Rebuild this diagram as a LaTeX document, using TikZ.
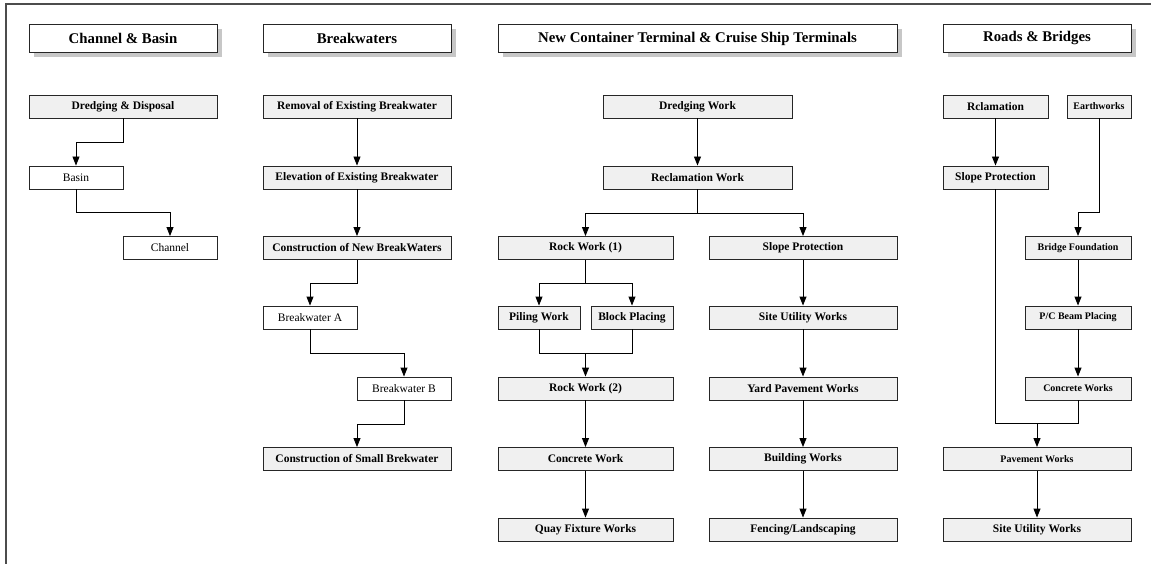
\documentclass[tikz,border=0pt]{standalone}
\usepackage{fontspec}
\setmainfont{Liberation Serif}
\usetikzlibrary{arrows.meta,shadows,calc}
\definecolor{boxgray}{RGB}{240,240,240}
\begin{document}
\begin{tikzpicture}[x=1pt,y=-1pt,
 box/.style={draw=black!85, line width=0.9pt, inner sep=0pt, align=center, minimum height=23pt},
 gbox/.style={box, fill=boxgray, font=\fontsize{11.5}{13}\selectfont\bfseries},
 sbox/.style={box, fill=boxgray, font=\fontsize{10}{12}\selectfont\bfseries},
 wbox/.style={box, fill=white, font=\fontsize{11.5}{13}\selectfont},
 hbox/.style={draw=black!85, line width=0.9pt, fill=white, minimum height=28pt, inner sep=0pt,
   font=\fontsize{14.8}{17}\selectfont\bfseries,
   drop shadow={shadow xshift=5pt, shadow yshift=-5pt, fill=black!22, opacity=1}},
 arr/.style={draw=black, line width=0.9pt, -{Triangle[length=9pt,width=7pt]}},
 ln/.style={draw=black, line width=0.9pt}]
\useasboundingbox (0,0) rectangle (1151,564);
\draw[black!70, line width=1.3pt] (6,564) -- (6,4) -- (1151,4);

% headers
\node[hbox, minimum width=188pt] (h1) at (123,38.5) {Channel \& Basin};
\node[hbox, minimum width=188pt] (h2) at (357,38.5) {Breakwaters};
\node[hbox, minimum width=399pt] (h3) at (697.5,38.5) {New Container Terminal \& Cruise Ship Terminals};
\node[hbox, minimum width=188pt] (h4) at (1037,38.5) {Roads \& Bridges};

% Channel & Basin
\node[gbox, minimum width=188pt] (cb1) at (123,106.5) {Dredging \& Disposal};
\node[wbox, minimum width=94pt] (cb2) at (76,177.5) {Basin};
\node[wbox, minimum width=94pt] (cb3) at (170,248) {Channel};
\draw[arr] (cb1.south) -- ++(0,24) -| (cb2.north);
\draw[arr] (cb2.south) -- ++(0,23.5) -| (cb3.north);

% Breakwaters
\node[gbox, minimum width=188pt] (bw1) at (357,106.5) {Removal of Existing Breakwater};
\node[gbox, minimum width=188pt] (bw2) at (357,177.5) {Elevation of Existing Breakwater};
\node[gbox, minimum width=188pt] (bw3) at (357,248) {Construction of New BreakWaters};
\node[wbox, minimum width=94pt] (bwa) at (310,317.5) {Breakwater A};
\node[wbox, minimum width=94pt] (bwb) at (404,388.5) {Breakwater B};
\node[gbox, minimum width=188pt] (bw4) at (357,459) {Construction of Small Brekwater};
\draw[arr] (bw1) -- (bw2);
\draw[arr] (bw2) -- (bw3);
\draw[arr] (bw3.south) -- ++(0,23.5) -| (bwa.north);
\draw[arr] (bwa.south) -- ++(0,24) -| (bwb.north);
\draw[arr] (bwb.south) -- ++(0,23.5) -| (bw4.north);

% New Container Terminal
\node[gbox, minimum width=189pt] (n1) at (697.5,106.5) {Dredging Work};
\node[gbox, minimum width=189pt] (n2) at (697.5,177.5) {Reclamation Work};
\node[gbox, minimum width=175pt] (n3) at (585.5,248) {Rock Work (1)};
\node[gbox, minimum width=188pt] (n4) at (803,248) {Slope Protection};
\node[gbox, minimum width=82pt] (n5) at (539,317.5) {Piling Work};
\node[gbox, minimum width=82pt] (n6) at (632,317.5) {Block Placing};
\node[gbox, minimum width=175pt] (n7) at (585.5,388.5) {Rock Work (2)};
\node[gbox, minimum width=175pt] (n8) at (585.5,459) {Concrete Work};
\node[gbox, minimum width=175pt] (n9) at (585.5,529.5) {Quay Fixture Works};
\node[gbox, minimum width=188pt] (n10) at (803,317.5) {Site Utility Works};
\node[gbox, minimum width=188pt] (n11) at (803,388.5) {Yard Pavement Works};
\node[gbox, minimum width=188pt] (n12) at (803,459) {Building Works};
\node[gbox, minimum width=188pt] (n13) at (803,529.5) {Fencing/Landscaping};
\draw[arr] (n1) -- (n2);
\draw[arr] (n2.south) -- ++(0,24) -| (n3.north);
\draw[arr] (n2.south) -- ++(0,24) -| (n4.north);
\draw[arr] (n3.south) -- ++(0,23.5) -| (n5.north);
\draw[arr] (n3.south) -- ++(0,23.5) -| (n6.north);
\draw[ln] (n5.south) -- ++(0,24) -| (n6.south);
\coordinate (jn) at (585.5,353);
\draw[arr] (jn) -- (n7.north);
\draw[arr] (n7) -- (n8);
\draw[arr] (n8) -- (n9);
\draw[arr] (n4) -- (n10);
\draw[arr] (n10) -- (n11);
\draw[arr] (n11) -- (n12);
\draw[arr] (n12) -- (n13);

% Roads & Bridges
\node[gbox, minimum width=105pt] (rb1) at (995.5,106.5) {Rclamation};
\node[sbox, minimum width=64pt] (rb2) at (1099,106.5) {Earthworks};
\node[gbox, minimum width=105pt] (rb3) at (995.5,177.5) {Slope Protection};
\node[sbox, minimum width=106pt] (rb4) at (1078,248) {Bridge Foundation};
\node[sbox, minimum width=106pt] (rb5) at (1078,317.5) {P/C Beam Placing};
\node[sbox, minimum width=106pt] (rb6) at (1078,388.5) {Concrete Works};
\node[sbox, minimum width=188pt] (rb7) at (1037,459) {Pavement Works};
\node[gbox, minimum width=188pt] (rb8) at (1037,529.5) {Site Utility Works};
\draw[arr] (rb1) -- (rb3);
\draw[arr] (rb2.south) -- ++(0,94) -| (rb4.north);
\draw[arr] (rb4) -- (rb5);
\draw[arr] (rb5) -- (rb6);
\draw[ln] (rb3.south) -- ++(0,234) -| (rb6.south);
\coordinate (jr) at (1037,423);
\draw[arr] (jr) -- (rb7.north);
\draw[arr] (rb7) -- (rb8);
\end{tikzpicture}
\end{document}
